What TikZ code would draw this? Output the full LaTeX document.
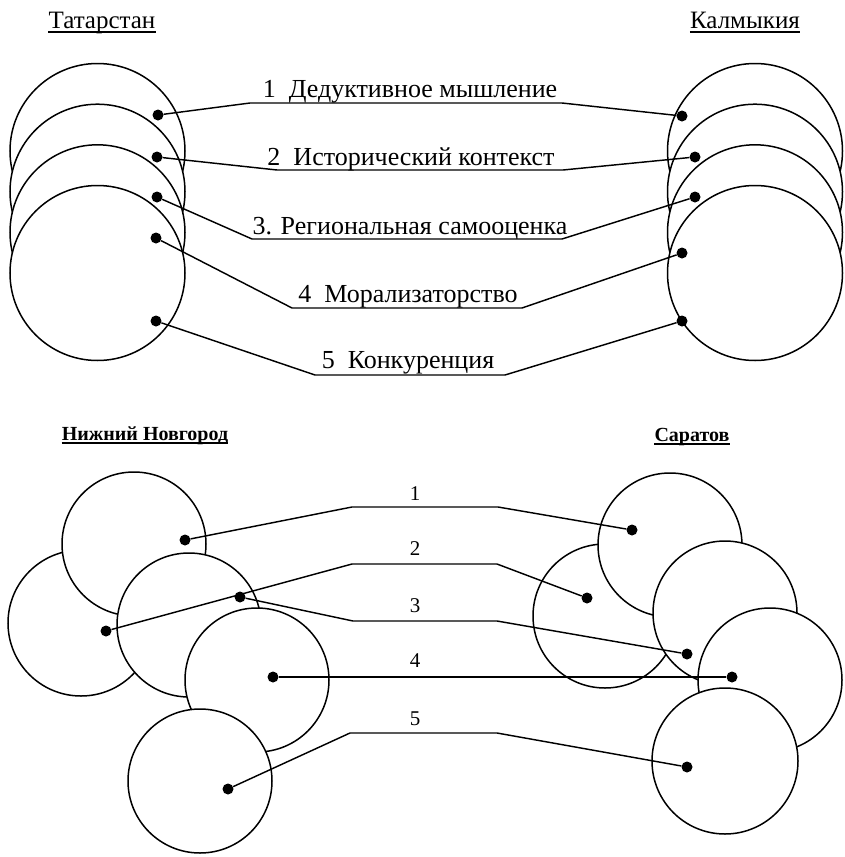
\documentclass[tikz,border=0pt]{standalone}
\usepackage{fontspec}
\setmainfont{Liberation Serif}
\begin{document}
\begin{tikzpicture}[x=1pt,y=-1pt,
  region/.style={draw, line width=1.5pt, fill=white},
  dot/.style={circle, fill=black, inner sep=0pt, minimum size=11pt},
  link/.style={line width=1.45pt, line join=round},
  lbl/.style={anchor=base, inner sep=0pt, font=\fontsize{26}{26}\selectfont},
  num/.style={anchor=base, inner sep=0pt, font=\fontsize{21}{21}\selectfont},
  ttl/.style={anchor=base, inner sep=0pt, font=\fontsize{25}{25}\selectfont},
  bttl/.style={anchor=base, inner sep=0pt, font=\fontsize{20}{20}\selectfont\bfseries},
  uline/.style={line width=1.6pt}]
\useasboundingbox (0,0) rectangle (845,857);

% ---------- titles ----------
\node[ttl] (tT) at (102,28) {Татарстан};
\node[ttl] (tK) at (745,28) {Калмыкия};
\node[bttl] (tN) at (145,440) {Нижний Новгород};
\node[bttl] (tS) at (692,441) {Саратов};
\foreach \t in {tT,tK} \draw[uline] ([yshift=-4pt]\t.base west) -- ([yshift=-4pt]\t.base east);
\foreach \t in {tN,tS} \draw[uline] ([yshift=-3pt]\t.base west) -- ([yshift=-3pt]\t.base east);

% ---------- top circles ----------
\foreach \cy in {151,191.7,232.3,273}{
  \draw[region] (97.5,\cy) circle[radius=87.5pt];
  \draw[region] (755,\cy) circle[radius=87.5pt];
}

% ---------- bottom circles ----------
\draw[region] (81,623) circle[radius=73pt];
\draw[region] (134,544) circle[radius=72pt];
\draw[region] (189,625) circle[radius=72pt];
\draw[region] (257,680) circle[radius=72pt];
\draw[region] (200,781) circle[radius=72pt];

\draw[region] (605,616) circle[radius=72pt];
\draw[region] (670,545) circle[radius=72pt];
\draw[region] (725,613) circle[radius=72pt];
\draw[region] (770,680) circle[radius=72pt];
\draw[region] (725,761) circle[radius=73pt];

% ---------- dots ----------
\node[dot] (a1) at (158,115) {};
\node[dot] (a2) at (157,157) {};
\node[dot] (a3) at (157,197) {};
\node[dot] (a4) at (156,238) {};
\node[dot] (a5) at (156,321) {};
\node[dot] (b1) at (682,116) {};
\node[dot] (b2) at (695,157) {};
\node[dot] (b3) at (695,197) {};
\node[dot] (b4) at (682,253) {};
\node[dot] (b5) at (682,321) {};

\node[dot] (c1) at (185,540) {};
\node[dot] (c2) at (240,597) {};
\node[dot] (c3) at (106,631) {};
\node[dot] (c4) at (273,677) {};
\node[dot] (c5) at (228,789) {};
\node[dot] (d1) at (632,530) {};
\node[dot] (d2) at (587,598) {};
\node[dot] (d3) at (687,654) {};
\node[dot] (d4) at (732,677) {};
\node[dot] (d5) at (687,767) {};

% ---------- bend points ----------
\coordinate (p1a) at (250,103); \coordinate (p1b) at (562,103);
\coordinate (p2a) at (277,170); \coordinate (p2b) at (563,170);
\coordinate (p3a) at (252,239); \coordinate (p3b) at (562,239);
\coordinate (p4a) at (292,308); \coordinate (p4b) at (522,308);
\coordinate (p5a) at (315,375); \coordinate (p5b) at (505,375);

\coordinate (q1a) at (352,507); \coordinate (q1b) at (498,507);
\coordinate (q2a) at (352,564); \coordinate (q2b) at (497,564);
\coordinate (q3a) at (353,621); \coordinate (q3b) at (497,621);
\coordinate (q5a) at (350,733); \coordinate (q5b) at (497,733);

% ---------- connectors ----------
\draw[link] (a1) -- (p1a) -- (p1b) -- (b1);
\draw[link] (a2) -- (p2a) -- (p2b) -- (b2);
\draw[link] (a3) -- (p3a) -- (p3b) -- (b3);
\draw[link] (a4) -- (p4a) -- (p4b) -- (b4);
\draw[link] (a5) -- (p5a) -- (p5b) -- (b5);

\draw[link] (c1) -- (q1a) -- (q1b) -- (d1);
\draw[link] (c3) -- (q2a) -- (q2b) -- (d2);
\draw[link] (c2) -- (q3a) -- (q3b) -- (d3);
\draw[link] (c4) -- (d4);
\draw[link] (c5) -- (q5a) -- (q5b) -- (d5);

% ---------- labels ----------
\node[lbl] (l1) at (410,97)  {1\hspace{0.5em}Дедуктивное мышление};
\node[lbl] (l2) at (411,165) {2\hspace{0.5em}Исторический контекст};
\node[lbl] (l3) at (410,234) {3. Региональная самооценка};
\node[lbl] (l4) at (408,302) {4\hspace{0.5em}Морализаторство};
\node[lbl] (l5) at (408,368) {5\hspace{0.5em}Конкуренция};

\node[num] (n1) at (415,500) {1};
\node[num] (n2) at (415,555) {2};
\node[num] (n3) at (415,612) {3};
\node[num] (n4) at (415,667) {4};
\node[num] (n5) at (415,725) {5};
\end{tikzpicture}
\end{document}
